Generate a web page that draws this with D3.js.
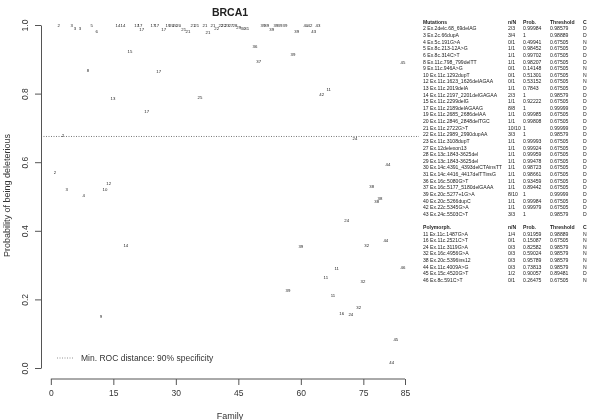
<html>
<head>
    <meta http-equiv="Content-Type" content="text/html;charset=utf-8">
    <script src="https://cdn.jsdelivr.net/npm/d3@7"></script>
    <style>
        body { margin: 0; background: #fff; }
        svg { will-change: transform; }
        text { font-family: "Liberation Sans", Arial, Helvetica, sans-serif; }
    </style>
    <title>BRCA1</title>
</head>
<body>
<div id="chart"></div>
<script>
// points: mutation number, family, probability of being deleterious
var pointLabels = ["2","3","3","3","5","6","14","14","17","17","17","17","17","17","19","20","20","20",
    "21","21","21","21","21","21","21","22","22","22","23","27","28","29","30","31",
    "39","39","39","39","39","39","39","39","40","42","43","43","36","37","11","42","24","45",
    "15","8","17","13","25","17","2","2","3","4","12","10","14","9",
    "24","39","32","11","11","32","39","11","16","24","32","44","38","38","38","44","46","45","44"];
var pointFamily = [1.9,5.0,5.8,7.0,9.8,11.0,16.1,17.3,20.6,21.4,21.8,24.5,25.4,27.1,28.1,29.0,29.8,30.7,
    31.9,32.9,34.1,35.0,37.0,37.7,38.9,39.8,40.8,41.5,42.3,43.2,44.2,45.1,46.1,47.0,
    50.9,51.8,53.0,54.0,55.0,56.2,59.0,58.1,61.2,62.2,64.1,63.1,49.0,49.9,66.7,65.0,73.0,84.5,
    19.0,8.9,25.9,14.9,35.8,23.0,2.9,1.0,3.8,7.9,13.9,13.0,18.0,12.0,
    71.0,60.0,75.8,68.6,66.0,74.9,56.9,67.7,69.8,72.0,73.9,80.9,77.0,78.2,79.0,80.4,84.5,82.8,81.8];
var pointProb = [1,1,0.991,0.991,1,0.982,1,1,1,1,0.988,1,1,0.988,1,1,1,1,
    0.988,0.98,1,1,1,0.977,1,0.991,1,1,1,1,1,0.994,0.991,0.991,
    1,1,0.988,1,1,1,0.98,0.913,1,1,1,0.98,0.936,0.895,0.813,0.796,0.668,0.892,
    0.924,0.866,0.863,0.787,0.79,0.749,0.679,0.569,0.519,0.504,0.539,0.519,0.356,0.149,
    0.431,0.353,0.356,0.289,0.265,0.251,0.227,0.21,0.16,0.157,0.175,0.592,0.528,0.484,0.493,0.373,0.294,0.082,0.017];

var threshold = 0.675;
var xTicks = [0, 15, 30, 45, 60, 75, 85];
var yTicks = [0, 0.2, 0.4, 0.6, 0.8, 1];

// right-hand table
var tableHeader = ["Mutations", "n/N", "Prob.", "Threshold", "C"];
var polyHeader = ["Polymorph.", "n/N", "Prob.", "Threshold", "C"];
var mutIds = ["2","3","4","5","6","8","9","10","12","13","14","15","17","19","20","21","22","23",
    "27","28","29","30","31","36","37","39","40","42","43"];
var mutNames = ["Ex.2delc.68_69delAG","Ex.2c.66dupA","Ex.5c.191G>A","Ex.8c.213-12A>G","Ex.8c.314C>T",
    "Ex.11c.798_799delTT","Ex.11c.946A>G","Ex.11c.1292dupT","Ex.11c.1623_1626delAGAA","Ex.11c.2019delA",
    "Ex.11c.2197_2201delGAGAA","Ex.11c.2299delG","Ex.11c.2189delAGAAG","Ex.11c.2685_2686delAA",
    "Ex.11c.2846_2848delTGC","Ex.11c.2722G>T","Ex.11c.2989_2990dupAA","Ex.11c.3108dupT",
    "Ex.12delexon13","Ex.13c.1843-3625del","Ex.13c.1843-3625del","Ex.14c.4391_4393delCTAinsTT",
    "Ex.14c.4416_4417delTTinsG","Ex.16c.5080G>T","Ex.16c.5177_5180delGAAA","Ex.20c.5277+1G>A",
    "Ex.20c.5266dupC","Ex.22c.5345G>A","Ex.24c.5503C>T"];
var mutNN = ["2/3","3/4","0/1","1/1","1/1","1/1","0/1","0/1","0/1","1/1","2/3","1/1","8/8","1/1","1/1",
    "10/10","3/3","1/1","1/1","1/1","1/1","1/1","1/1","1/1","1/1","8/10","1/1","1/1","3/3"];
var mutProb = ["0.99984","1","0.49941","0.98452","0.99702","0.98207","0.14148","0.51301","0.53152","0.7843",
    "1","0.92222","1","0.99985","0.99808","1","1","0.99993","0.99924","0.99959","0.99478","0.98723",
    "0.98661","0.93459","0.89442","1","0.99984","0.99979","1"];
var mutThr = ["0.98579","0.98889","0.67505","0.67505","0.67505","0.67505","0.67505","0.67505","0.67505",
    "0.67505","0.98579","0.67505","0.99999","0.67505","0.67505","0.99999","0.98579","0.67505","0.67505",
    "0.67505","0.67505","0.67505","0.67505","0.67505","0.67505","0.99999","0.67505","0.67505","0.98579"];
var mutClass = ["D","D","N","D","D","D","N","N","N","D","D","D","D","D","D","D","D","D","D","D","D","D",
    "D","D","D","D","D","D","D"];

var polyIds = ["11","16","24","32","38","44","45","46"];
var polyNames = ["Ex.11c.1487G>A","Ex.11c.2521C>T","Ex.11c.3119G>A","Ex.16c.4956G>A","Ex.20c.5396ins12",
    "Ex.11c.4009A>G","Ex.15c.4520G>T","Ex.8c.591C>T"];
var polyNN = ["1/4","0/1","0/3","0/3","0/3","0/3","1/2","0/1"];
var polyProb = ["0.91959","0.15087","0.82582","0.59024","0.95789","0.73813","0.90057","0.26475"];
var polyThr = ["0.98889","0.67505","0.98579","0.98579","0.98579","0.98579","0.89481","0.67505"];
var polyClass = ["N","N","N","N","N","N","D","N"];

var width = 600, height = 420;
var svg = d3.select("#chart").append("svg")
    .attr("width", width).attr("height", height);

var x = d3.scaleLinear().domain([-2.36, 88.36]).range([41, 419]);
var y = d3.scaleLinear().domain([0, 1]).range([368, 25]);
var axisColor = "#555";

// title
svg.append("text")
    .attr("x", 230).attr("y", 16)
    .attr("text-anchor", "middle")
    .style("font-size", "10.5px").style("font-weight", "bold")
    .attr("fill", "#222")
    .text("BRCA1");

// x axis
var xAxis = svg.append("g")
    .attr("transform", "translate(0,379)")
    .call(d3.axisBottom(x).tickValues(xTicks).tickSize(6).tickPadding(5).tickSizeOuter(0));
xAxis.select(".domain").attr("d", "M" + x(0) + ",0H" + x(85));
xAxis.selectAll("line, path").attr("stroke", axisColor);
xAxis.selectAll("text").style("font-size", "8.5px").attr("fill", "#333");

svg.append("text")
    .attr("x", 230).attr("y", 419)
    .attr("text-anchor", "middle")
    .style("font-size", "9px").attr("fill", "#333")
    .text("Family");

// y axis
var yAxis = svg.append("g")
    .attr("transform", "translate(41,0)")
    .call(d3.axisLeft(y).tickValues(yTicks).tickSize(6).tickSizeOuter(0)
        .tickFormat(d3.format(".1f")));
yAxis.selectAll("line, path").attr("stroke", axisColor);
yAxis.selectAll(".tick text")
    .attr("x", 0).attr("dy", null)
    .attr("transform", "translate(-13,0) rotate(-90)")
    .attr("text-anchor", "middle")
    .style("font-size", "8.5px").attr("fill", "#333");

svg.append("text")
    .attr("transform", "translate(10," + (y(0.5) - 1) + ") rotate(-90)")
    .attr("text-anchor", "middle")
    .style("font-size", "9px").attr("fill", "#333")
    .text("Probability of being deleterious");

// threshold line
svg.append("line")
    .attr("x1", x(-2.36)).attr("x2", x(88.36))
    .attr("y1", y(threshold)).attr("y2", y(threshold))
    .attr("stroke", "#555").attr("stroke-width", 0.8)
    .attr("stroke-dasharray", "1,1.5");

// points as labels
var pts = pointLabels.map(function(l, i) {
    return {label: l, f: pointFamily[i], p: pointProb[i]};
});
svg.append("g").selectAll("text")
    .data(pts).enter().append("text")
    .attr("x", function(d) { return x(d.f); })
    .attr("y", function(d) { return y(d.p); })
    .attr("dy", "0.35em")
    .attr("text-anchor", "middle")
    .attr("fill", "#222")
    .style("font-size", "4.3px")
    .text(function(d) { return d.label; });

// legend
svg.append("line")
    .attr("x1", 57).attr("x2", 73).attr("y1", 358).attr("y2", 358)
    .attr("stroke", "#777").attr("stroke-width", 0.8)
    .attr("stroke-dasharray", "1,1.5");
svg.append("text")
    .attr("x", 81).attr("y", 358).attr("dy", "0.35em")
    .style("font-size", "8.5px").attr("fill", "#333")
    .text("Min. ROC distance: 90% specificity");

// table
var colX = [423, 508, 523, 550, 583];
var rowY = function(i) { return 22 + i * 6.62; };
var table = svg.append("g").style("font-size", "5.1px").attr("fill", "#222");

function tableRow(cells, i, bold) {
    cells.forEach(function(c, j) {
        table.append("text")
            .attr("x", colX[j]).attr("y", rowY(i)).attr("dy", "0.35em")
            .style("font-weight", bold ? "bold" : null)
            .text(c);
    });
}
tableRow(tableHeader, 0, true);
mutIds.forEach(function(id, i) {
    tableRow([id + " " + mutNames[i], mutNN[i], mutProb[i], mutThr[i], mutClass[i]], i + 1, false);
});
var polyStart = mutIds.length + 2;
tableRow(polyHeader, polyStart, true);
polyIds.forEach(function(id, i) {
    tableRow([id + " " + polyNames[i], polyNN[i], polyProb[i], polyThr[i], polyClass[i]], polyStart + 1 + i, false);
});
</script>
</body>
</html>
